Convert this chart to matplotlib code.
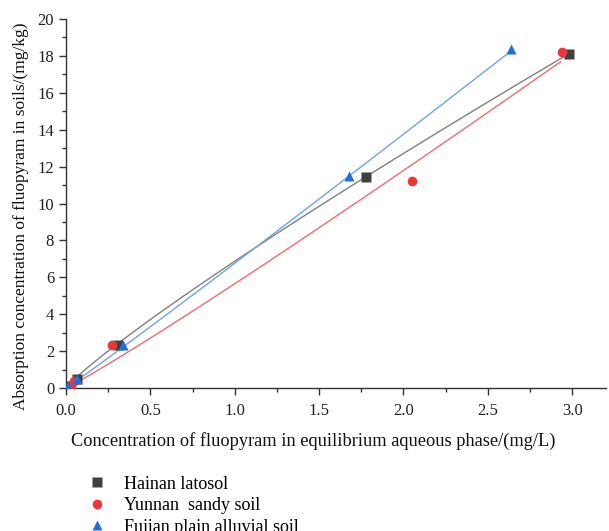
import numpy as np
import matplotlib.pyplot as plt
from matplotlib.lines import Line2D

plt.rcParams['font.family'] = ['Liberation Serif', 'DejaVu Serif']

# measured points: equilibrium conc (mg/L) vs adsorbed conc (mg/kg)
soils = ['Hainan latosol', 'Yunnan  sandy soil', 'Fujian plain alluvial soil']
x_hainan = [0.01, 0.065, 0.31, 1.78, 2.98]
y_hainan = [0.10, 0.49, 2.33, 11.45, 18.10]
x_yunnan = [0.03, 0.05, 0.27, 2.05, 2.94]
y_yunnan = [0.05, 0.40, 2.33, 11.22, 18.20]
x_fujian = [0.01, 0.065, 0.34, 1.68, 2.64]
y_fujian = [0.10, 0.50, 2.33, 11.49, 18.37]

# Freundlich fits  Cs = K * Ce^n
fit_K = [6.87, 5.65, 6.76]
fit_n = [0.888, 1.061, 1.025]
fit_xmax = [2.98, 2.93, 2.65]

marker_colors = ['#404040', '#e8383c', '#1f6fe0']
line_colors = ['#808080', '#f26b6b', '#6ea4ea']
markers = ['s', 'o', '^']

fig = plt.figure(figsize=(6.09, 5.31), dpi=100)
ax = fig.add_axes([0.1084, 0.2693, 0.8866, 0.6949])

xs = [x_hainan, x_yunnan, x_fujian]
ys = [y_hainan, y_yunnan, y_fujian]
for i in range(3):
    xx = np.linspace(0, fit_xmax[i], 200)
    ax.plot(xx, fit_K[i] * xx ** fit_n[i], color=line_colors[i], lw=1.0, zorder=2)
for i in range(3):
    ax.plot(xs[i], ys[i], ls='none', marker=markers[i], color=marker_colors[i],
            ms=7 if i != 0 else 6.5, mec='none', zorder=3)

ax.set_xlim(0, 3.2)
ax.set_ylim(0, 20)
ax.set_xticks([0, 0.5, 1.0, 1.5, 2.0, 2.5, 3.0])
ax.set_xticks(np.arange(0.25, 3.2, 0.5), minor=True)
ax.set_yticks(range(0, 21, 2))
ax.set_yticks(range(1, 21, 2), minor=True)
ax.xaxis.set_major_formatter(plt.FormatStrFormatter('%.1f'))
ax.spines['top'].set_visible(False)
ax.spines['right'].set_visible(False)
for s in ['left', 'bottom']:
    ax.spines[s].set_color('#333333')
    ax.spines[s].set_linewidth(1.0)
ax.tick_params(which='major', direction='out', length=5, width=1, color='#333333',
               labelsize=12, labelcolor='#222222')
ax.tick_params(axis='x', which='major', pad=6)
ax.tick_params(which='minor', direction='out', length=3, width=1, color='#333333')

ax.set_xlabel('Concentration of fluopyram in equilibrium aqueous phase/(mg/L)',
              fontsize=13.2, color='#111111')
ax.xaxis.set_label_coords(0.458, -0.12)
ax.set_ylabel('Absorption concentration of fluopyram in soils/(mg/kg)',
              fontsize=12.5, color='#111111')
ax.yaxis.set_label_coords(-0.068, 0.465)

handles = [Line2D([], [], ls='none', marker=markers[i], color=marker_colors[i],
                  ms=7 if i != 0 else 6.5, mec='none') for i in range(3)]
fig.legend(handles, soils, loc='upper left', bbox_to_anchor=(0.142, 0.104),
           frameon=False, fontsize=13, handletextpad=0.9, labelspacing=0.25,
           borderaxespad=0, borderpad=0, handlelength=1.2)

fig.savefig('out.png', dpi=100)
